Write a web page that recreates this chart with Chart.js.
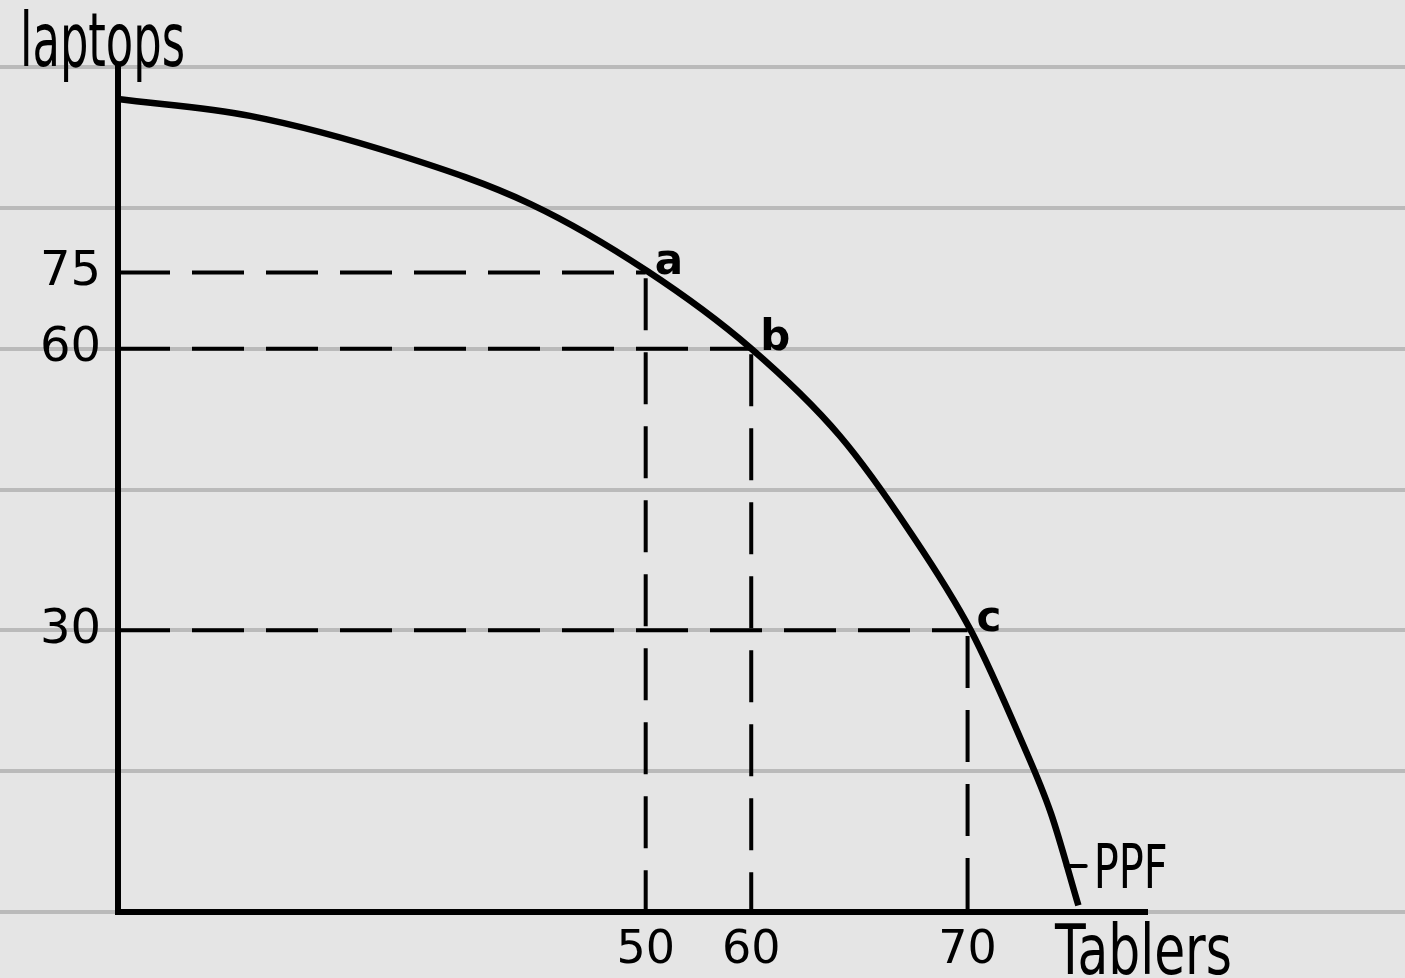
<!DOCTYPE html>
<html lang="en">

<head>
    <meta charset="UTF-8" />
    <meta name="viewport" content="width=device-width, initial-scale=1.0" />
    <title>PPF - Laptops vs Tablers</title>
    <script src="https://cdn.jsdelivr.net/npm/chart.js"></script>
    <style>
        body {
            margin: 0;
            background: #e5e5e5;
        }

        canvas {
            display: block;
        }
    </style>
</head>

<body>

    <canvas id="ppfChart" width="1405" height="978"></canvas>

    <script>
        // tick labels, and where the sketch puts them on its own (not to scale) axes
        const tablerTicks = [50, 60, 70];
        const tablerTickAt = [50, 60, 80.5];
        const laptopTicks = [75, 60, 30];
        const laptopTickAt = [68.1, 60, 30];
        const pointNames = ['a', 'b', 'c'];

        // the PPF curve
        const ppfX = [0, 12.5, 26.7, 39.1, 50.1, 59.9, 68.4, 75.1, 80.8, 85.5, 88.4, 91.0];
        const ppfY = [86.6, 84.8, 80.6, 75.4, 68.3, 60.1, 50.7, 40.4, 30.0, 18.5, 10.5, 0.7];

        // ruled lines of the notebook page
        const pageLines = [0, 15, 30, 45, 60, 75, 90];

        const ink = '#000000';
        const hand = '"DejaVu Sans", sans-serif';

        const ppfData = ppfX.map((x, i) => ({ x: x, y: ppfY[i] }));

        const guideSets = [];
        pointNames.forEach((name, i) => {
            const x = tablerTickAt[i];
            const y = laptopTickAt[i];
            guideSets.push({
                data: [{ x: 0, y: y }, { x: x, y: y }],
                borderColor: ink,
                borderWidth: 4,
                borderDash: [52, 22],
                pointRadius: 0,
                fill: false
            });
            guideSets.push({
                data: [{ x: x, y: y - 0.6 }, { x: x, y: 0 }],
                borderColor: ink,
                borderWidth: 4,
                borderDash: [52, 22],
                pointRadius: 0,
                fill: false
            });
        });

        function squeezedText(ctx, text, x, y, size, width, align) {
            ctx.save();
            ctx.font = size + 'px ' + hand;
            const w = ctx.measureText(text).width;
            const k = width / w;
            ctx.translate(x, y);
            ctx.scale(k, 1);
            ctx.textAlign = align || 'left';
            ctx.textBaseline = 'alphabetic';
            ctx.fillStyle = ink;
            ctx.fillText(text, 0, 0);
            ctx.restore();
        }

        const notebookPage = {
            id: 'notebookPage',
            beforeDraw(chart) {
                const ctx = chart.ctx;
                const yScale = chart.scales.y;
                ctx.save();
                ctx.fillStyle = '#e5e5e5';
                ctx.fillRect(0, 0, chart.width, chart.height);
                ctx.strokeStyle = '#bababa';
                ctx.lineWidth = 4;
                pageLines.forEach(v => {
                    const py = Math.round(yScale.getPixelForValue(v));
                    ctx.beginPath();
                    ctx.moveTo(0, py);
                    ctx.lineTo(chart.width, py);
                    ctx.stroke();
                });
                ctx.restore();
            }
        };

        const sketchNotes = {
            id: 'sketchNotes',
            afterDatasetsDraw(chart) {
                const ctx = chart.ctx;
                const xs = chart.scales.x;
                const ys = chart.scales.y;

                // a, b, c next to the points
                ctx.save();
                ctx.font = 'bold 42px ' + hand;
                ctx.fillStyle = ink;
                ctx.textAlign = 'left';
                ctx.textBaseline = 'alphabetic';
                pointNames.forEach((name, i) => {
                    const px = xs.getPixelForValue(tablerTickAt[i]);
                    const py = ys.getPixelForValue(laptopTickAt[i]);
                    ctx.fillText(name, px + 9, py + 1);
                });
                ctx.restore();

                // PPF marker
                const mx = xs.getPixelForValue(89.8);
                const my = ys.getPixelForValue(4.9);
                ctx.save();
                ctx.strokeStyle = ink;
                ctx.lineWidth = 4;
                ctx.lineCap = 'round';
                ctx.beginPath();
                ctx.moveTo(mx, my);
                ctx.lineTo(mx + 20, my);
                ctx.stroke();
                ctx.restore();
                squeezedText(ctx, 'PPF', mx + 28, my + 22, 60, 74);

                // axis names
                squeezedText(ctx, 'laptops', 20, 66, 74, 165);
                squeezedText(ctx, 'Tablers', 1055, 974, 70, 177);
            }
        };

        const ctx = document.getElementById('ppfChart').getContext('2d');
        const chart = new Chart(ctx, {
            type: 'line',
            data: {
                datasets: [
                    {
                        label: 'PPF',
                        data: ppfData,
                        borderColor: ink,
                        borderWidth: 6.5,
                        cubicInterpolationMode: 'monotone',
                        pointRadius: 0,
                        fill: false,
                        clip: false
                    },
                    ...guideSets
                ]
            },
            options: {
                responsive: false,
                animation: false,
                layout: {
                    padding: { left: 0, right: 258, top: 67, bottom: 0 }
                },
                plugins: {
                    legend: { display: false },
                    tooltip: { enabled: false }
                },
                scales: {
                    x: {
                        type: 'linear',
                        min: 0,
                        max: 97.5,
                        grid: { display: false },
                        border: { display: true, color: ink, width: 6 },
                        afterFit: s => { s.height = 66; },
                        afterBuildTicks: s => { s.ticks = tablerTickAt.map(v => ({ value: v })); },
                        ticks: {
                            autoSkip: false,
                            maxRotation: 0,
                            padding: 3,
                            color: ink,
                            font: { family: hand, size: 46 },
                            callback: (v, i) => tablerTicks[i]
                        }
                    },
                    y: {
                        type: 'linear',
                        min: 0,
                        max: 90,
                        grid: { display: false },
                        border: { display: true, color: ink, width: 6 },
                        afterFit: s => { s.width = 118; },
                        afterBuildTicks: s => { s.ticks = laptopTickAt.map(v => ({ value: v })); },
                        ticks: {
                            autoSkip: false,
                            padding: 9,
                            color: ink,
                            font: { family: hand, size: 48 },
                            callback: (v, i) => laptopTicks[i]
                        }
                    }
                }
            },
            plugins: [notebookPage, sketchNotes]
        });
    </script>

</body>

</html>
